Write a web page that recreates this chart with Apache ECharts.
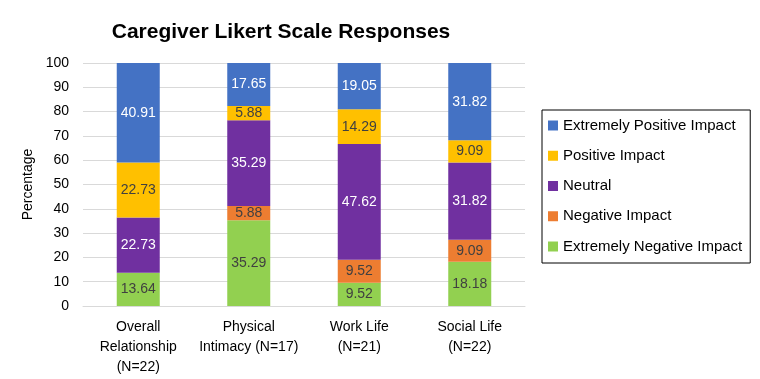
<!DOCTYPE html>
<html><head><meta charset="utf-8">
<script src="https://cdn.jsdelivr.net/npm/echarts@6/dist/echarts.min.js"></script>
<style>html,body{margin:0;padding:0;background:#fff}#c{width:760px;height:379px}</style>
</head><body><div id="c"></div>
<script>
const categories = ['Overall\nRelationship\n(N=22)', 'Physical\nIntimacy (N=17)', 'Work Life\n(N=21)', 'Social Life\n(N=22)'];
const extremelyNegative = [13.64, 35.29, 9.52, 18.18];
const negative = [0, 5.88, 9.52, 9.09];
const neutral = [22.73, 35.29, 47.62, 31.82];
const positive = [22.73, 5.88, 14.29, 9.09];
const extremelyPositive = [40.91, 17.65, 19.05, 31.82];
const seriesNames = ['Extremely Positive Impact', 'Positive Impact', 'Neutral', 'Negative Impact', 'Extremely Negative Impact'];

const FONT = 'Liberation Sans, Arial, sans-serif';
function mk(name, data, color, labelColor) {
  return {
    name, type: 'bar', stack: 'a', data, barWidth: 43,
    itemStyle: { color },
    label: {
      show: true, position: 'inside', color: labelColor, fontSize: 14, fontFamily: FONT,
      formatter: p => p.value ? p.value.toFixed(2) : ''
    }
  };
}
const chart = echarts.init(document.getElementById('c'));
chart.setOption({
  animation: false,
  title: { text: 'Caregiver Likert Scale Responses', left: 276, textAlign: 'center', top: 17,
    textStyle: { fontFamily: FONT, fontWeight: 'bold', fontSize: 21, color: '#000' } },
  grid: { left: 83, right: 235, top: 63, bottom: 73 },
  legend: {
    data: seriesNames, orient: 'vertical', left: 542, top: 110,
    borderColor: '#000', borderWidth: 1, padding: [8, 8, 9, 6],
    itemWidth: 10, itemHeight: 10, itemGap: 15.25, icon: 'rect',
    textStyle: { fontFamily: FONT, fontSize: 15, color: '#000', lineHeight: 15 }
  },
  xAxis: {
    type: 'category', data: categories,
    axisLine: { lineStyle: { color: '#d9d9d9' } }, axisTick: { show: false },
    axisLabel: { color: '#000', fontSize: 14, fontFamily: FONT, lineHeight: 20, margin: 11, interval: 0 }
  },
  yAxis: {
    type: 'value', min: 0, max: 100, interval: 10,
    name: 'Percentage', nameLocation: 'middle', nameGap: 41,
    nameTextStyle: { fontSize: 14, fontFamily: FONT, color: '#000' },
    axisLabel: { color: '#000', fontSize: 14, fontFamily: FONT, margin: 14 },
    splitLine: { lineStyle: { color: '#d9d9d9' } }
  },
  series: [
    mk('Extremely Negative Impact', extremelyNegative, '#92D050', '#404040'),
    mk('Negative Impact', negative, '#ED7D31', '#404040'),
    mk('Neutral', neutral, '#7030A0', '#fff'),
    mk('Positive Impact', positive, '#FFC000', '#404040'),
    mk('Extremely Positive Impact', extremelyPositive, '#4472C4', '#fff')
  ]
});
</script></body></html>
